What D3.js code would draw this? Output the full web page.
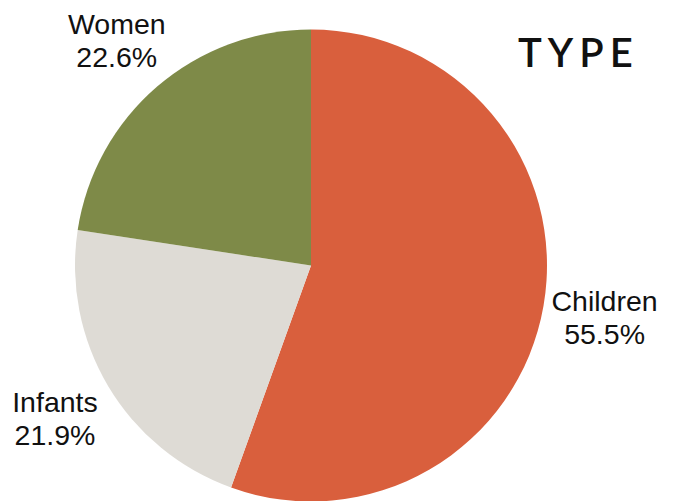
<!DOCTYPE html>
<html>
<head>
<meta charset="utf-8">
<script src="https://cdn.jsdelivr.net/npm/d3@7"></script>
<style>
  body { margin: 0; background: #fff; }
</style>
</head>
<body>
<div id="chart-area"></div>
<script>
// data
var categories = ["Children", "Infants", "Women"];
var shares = [55.5, 21.9, 22.6];
var colors = ["#d95f3d", "#dedbd5", "#7e8a48"];
var title = "TYPE";

var width = 676, height = 501;
var cx = 311, cy = 265.5, radius = 236, labelRadius = 298;

var svg = d3.select("#chart-area")
  .append("svg")
  .attr("width", width)
  .attr("height", height);

var data = categories.map(function(c, i) { return { name: c, value: shares[i], color: colors[i] }; });

var pie = d3.pie()
  .sort(null)
  .value(function(d) { return d.value; });

var arc = d3.arc().innerRadius(0).outerRadius(radius);
var labelArc = d3.arc().innerRadius(labelRadius).outerRadius(labelRadius);

var g = svg.append("g")
  .attr("transform", "translate(" + cx + "," + cy + ")");

var arcs = pie(data);

g.selectAll("path.slice")
  .data(arcs)
  .enter().append("path")
  .attr("class", "slice")
  .attr("d", arc)
  .attr("fill", function(d) { return d.data.color; });

// outside labels: name + percentage
var labels = g.selectAll("text.label")
  .data(arcs)
  .enter().append("text")
  .attr("class", "label")
  .attr("transform", function(d) { return "translate(" + labelArc.centroid(d) + ")"; })
  .attr("text-anchor", "middle")
  .attr("font-family", "'Liberation Sans', Arial, sans-serif")
  .attr("font-size", "28.5px")
  .attr("fill", "#111");

labels.append("tspan")
  .attr("x", 0)
  .attr("y", -6)
  .text(function(d) { return d.data.name; });

labels.append("tspan")
  .attr("x", 0)
  .attr("y", 27)
  .text(function(d) { return d.data.value.toFixed(1) + "%"; });

// title
svg.append("text")
  .attr("x", 518)
  .attr("y", 67)
  .attr("font-family", "Lato, sans-serif")
  .attr("font-weight", "600")
  .attr("font-size", "40px")
  .attr("letter-spacing", "6px")
  .attr("fill", "#111")
  .text(title);
</script>
</body>
</html>
